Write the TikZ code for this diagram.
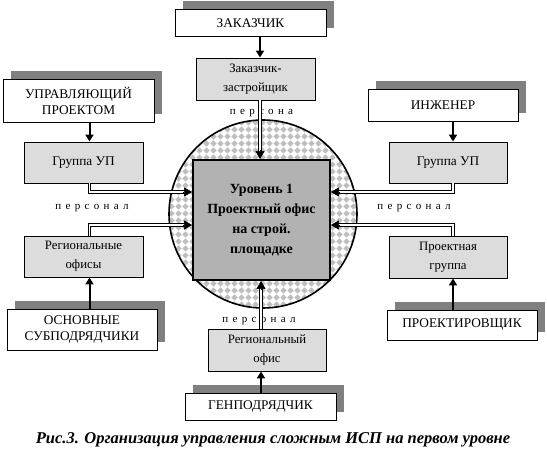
\documentclass[tikz,border=0pt]{standalone}
\usepackage{fontspec}
\setmainfont{Liberation Serif}
\usetikzlibrary{arrows.meta,shadows,patterns,calc}
\pgfdeclarepatternformonly{mydiam}{\pgfpoint{-1pt}{-1pt}}{\pgfpoint{8pt}{8pt}}{\pgfpoint{7pt}{7pt}}{%
 \pgfpathmoveto{\pgfpoint{3.5pt}{0.3pt}}%
 \pgfpathlineto{\pgfpoint{6.7pt}{3.5pt}}%
 \pgfpathlineto{\pgfpoint{3.5pt}{6.7pt}}%
 \pgfpathlineto{\pgfpoint{0.3pt}{3.5pt}}%
 \pgfpathclose\pgfusepath{fill}}
\definecolor{shd}{HTML}{808080}
\definecolor{gbox}{HTML}{DCDCDC}
\definecolor{cgray}{HTML}{B2B2B2}
\definecolor{patc}{HTML}{BEBEBE}
\newcommand\lsp{\hspace{4.3pt}}
\begin{document}
\begin{tikzpicture}[x=1pt,y=-1pt,
  wbox/.style={draw=black, line width=0.9pt, fill=white, inner sep=0pt, align=center,
    font=\fontsize{13.3}{16}\selectfont,
    drop shadow={shadow xshift=8pt, shadow yshift=8pt, fill=shd, opacity=1}},
  gboxst/.style={draw=black, line width=0.9pt, fill=gbox, inner sep=0pt, align=center,
    font=\fontsize{12.8}{19}\selectfont},
  sarr/.style={line width=2pt, -{Triangle[length=7pt,width=8pt]}},
  dbl/.style={double=white, draw=black, line width=0.9pt, double distance=1.6pt, shorten >=6pt},
  tipst/.style={line width=0.6pt, -{Triangle[length=8pt,width=9pt]}},
  lbl/.style={font=\fontsize{11}{13}\selectfont, inner sep=0pt}]
\useasboundingbox (0,0) rectangle (547,462);
% circle
\fill[white] (263,214) circle[radius=94];
\fill[pattern=mydiam, pattern color=patc] (263,214) circle[radius=94];
\draw[line width=1.6pt] (263,214) circle[radius=94];
% coordinates
\coordinate (xL) at (89.5,0);
\coordinate (xR) at (453,0);
\coordinate (xT) at (260,0);
\coordinate (xB) at (261,0);
\coordinate (yA) at (0,192);
\coordinate (yB) at (0,225);
% central box
\node[draw=black, line width=1.8pt, fill=cgray, minimum width=137, minimum height=120, inner sep=0pt,
  align=center, font=\bfseries\fontsize{14}{20}\selectfont] (cbox) at (261.5,220)
  {Уровень 1\\Проектный офис\\на строй.\\площадке};
% white boxes
\node[wbox, minimum width=151, minimum height=27] (zak) at (250.5,23) {ЗАКАЗЧИК};
\node[wbox, minimum width=151, minimum height=43] (up) at (78.5,100.5) {УПРАВЛЯЮЩИЙ\\ПРОЕКТОМ};
\node[wbox, minimum width=150, minimum height=41] (osn) at (82,329.5) {ОСНОВНЫЕ\\СУБПОДРЯДЧИКИ};
\node[wbox, minimum width=150, minimum height=32] (inzh) at (443,105) {ИНЖЕНЕР};
\node[wbox, minimum width=150, minimum height=30] (proj) at (462,325) {ПРОЕКТИРОВЩИК};
\node[wbox, minimum width=151, minimum height=27] (gen) at (260.5,406.5) {ГЕНПОДРЯДЧИК};
% grey boxes
\node[gboxst, minimum width=119, minimum height=42] (zz) at (255.5,79) {Заказчик-\\застройщик};
\node[gboxst, minimum width=119, minimum height=41, font=\fontsize{13.3}{16}\selectfont] (gup1) at (83.5,162.5) {Группа УП};
\node[gboxst, minimum width=119, minimum height=41] (reg1) at (83.5,256.5) {Региональные\\офисы};
\node[gboxst, minimum width=118, minimum height=41, font=\fontsize{13.3}{16}\selectfont] (gup2) at (448,162.5) {Группа УП};
\node[gboxst, minimum width=118, minimum height=42] (pg) at (448,257) {Проектная\\группа};
\node[gboxst, minimum width=118, minimum height=42] (ro) at (267,350) {Региональный\\офис};
% single arrows
\draw[sarr] (zak.south -| xT) -- (zz.north -| xT);
\draw[sarr] (up.south -| xL) -- (gup1.north -| xL);
\draw[sarr] (osn.north -| xL) -- (reg1.south -| xL);
\draw[sarr] (inzh.south -| xR) -- (gup2.north -| xR);
\draw[sarr] (proj.north -| xR) -- (pg.south -| xR);
\draw[sarr] (gen.north -| xB) -- (ro.south -| xB);
% labels
\node[lbl] (l1) at (261.5,113) {п\lsp е\lsp р\lsp с\lsp о\lsp н\lsp а};
\node[lbl] (l2) at (92,208) {п\lsp е\lsp р\lsp с\lsp о\lsp н\lsp а\lsp л};
\node[lbl] (l3) at (414,208) {п\lsp е\lsp р\lsp с\lsp о\lsp н\lsp а\lsp л};
\node[lbl] (l4) at (259,321) {п\lsp е\lsp р\lsp с\lsp о\lsp н\lsp а\lsp л};
% double connectors
\draw[dbl] (gup1.south -| xL) |- (cbox.west |- yA);
\draw[tipst] ($(cbox.west |- yA)+(-9,0)$) -- (cbox.west |- yA);
\draw[dbl] (reg1.north -| xL) |- (cbox.west |- yB);
\draw[tipst] ($(cbox.west |- yB)+(-9,0)$) -- (cbox.west |- yB);
\draw[dbl] (gup2.south -| xR) |- (cbox.east |- yA);
\draw[tipst] ($(cbox.east |- yA)+(9,0)$) -- (cbox.east |- yA);
\draw[dbl] (pg.north -| xR) |- (cbox.east |- yB);
\draw[tipst] ($(cbox.east |- yB)+(9,0)$) -- (cbox.east |- yB);
\draw[dbl] (zz.south -| xT) -- (cbox.north -| xT);
\draw[tipst] ($(cbox.north -| xT)+(0,-9)$) -- (cbox.north -| xT);
\draw[dbl] (ro.north -| xB) -- (cbox.south -| xB);
\draw[tipst] ($(cbox.south -| xB)+(0,9)$) -- (cbox.south -| xB);
% caption
\node[font=\bfseries\itshape\fontsize{16.5}{19}\selectfont, inner sep=0pt] (cap) at (273,440)
  {Рис.3. Организация управления сложным ИСП на первом уровне};
\end{tikzpicture}
\end{document}
